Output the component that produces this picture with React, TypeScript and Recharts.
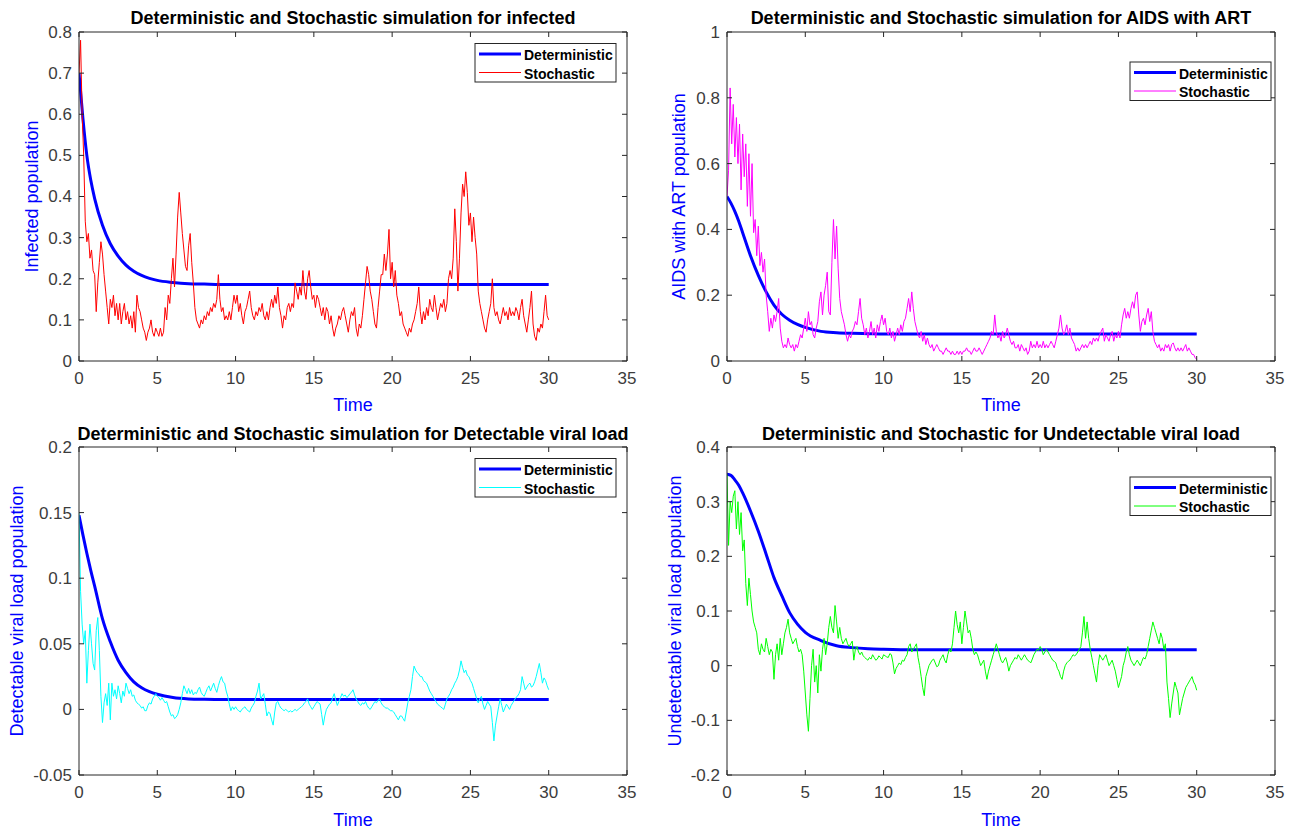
import React from 'react';
import { LineChart, Line, XAxis, YAxis } from 'recharts';

const FONT = '"Liberation Sans", Arial, Helvetica, sans-serif';
const AXIS_COLOR = '#262626';
const TICK_COLOR = '#3c3c3c';
const DET_COLOR = '#0000ff';
const LABEL_COLOR = '#0000ff';

// ---------- DATA ----------
// Stochastic series sampled every 0.1 time unit from t = 0 to t = 30 (301 values)
const stochInfected = [
  0.70, 0.78, 0.60, 0.50, 0.34, 0.29, 0.31, 0.25, 0.27, 0.22,
  0.21, 0.12, 0.19, 0.24, 0.29, 0.26, 0.21, 0.17, 0.13, 0.09,
  0.15, 0.13, 0.16, 0.11, 0.14, 0.10, 0.14, 0.09, 0.12, 0.14,
  0.10, 0.12, 0.09, 0.11, 0.08, 0.12, 0.07, 0.16, 0.13, 0.12,
  0.10, 0.08, 0.07, 0.05, 0.07, 0.08, 0.10, 0.07, 0.06, 0.08,
  0.07, 0.06, 0.08, 0.06, 0.07, 0.13, 0.10, 0.16, 0.14, 0.20,
  0.25, 0.18, 0.26, 0.35, 0.41, 0.36, 0.31, 0.27, 0.23, 0.22,
  0.28, 0.31, 0.24, 0.19, 0.13, 0.10, 0.09, 0.08, 0.10, 0.09,
  0.11, 0.10, 0.12, 0.11, 0.13, 0.12, 0.14, 0.13, 0.15, 0.21,
  0.15, 0.12, 0.13, 0.10, 0.11, 0.10, 0.12, 0.10, 0.13, 0.16,
  0.14, 0.16, 0.12, 0.14, 0.11, 0.09, 0.12, 0.13, 0.15, 0.17,
  0.13, 0.11, 0.10, 0.12, 0.11, 0.13, 0.12, 0.14, 0.11, 0.10,
  0.12, 0.10, 0.13, 0.15, 0.13, 0.16, 0.14, 0.18, 0.13, 0.11,
  0.08, 0.11, 0.10, 0.13, 0.14, 0.12, 0.14, 0.13, 0.19, 0.17,
  0.15, 0.18, 0.16, 0.22, 0.17, 0.15, 0.20, 0.22, 0.18, 0.15,
  0.16, 0.13, 0.16, 0.15, 0.13, 0.11, 0.13, 0.10, 0.13, 0.12,
  0.09, 0.11, 0.08, 0.06, 0.08, 0.09, 0.11, 0.10, 0.12, 0.13,
  0.11, 0.09, 0.07, 0.10, 0.12, 0.11, 0.13, 0.08, 0.06, 0.09,
  0.08, 0.11, 0.15, 0.19, 0.23, 0.21, 0.17, 0.15, 0.12, 0.09,
  0.08, 0.13, 0.17, 0.21, 0.21, 0.26, 0.22, 0.26, 0.32, 0.20,
  0.24, 0.18, 0.22, 0.16, 0.14, 0.11, 0.12, 0.09, 0.08, 0.07,
  0.06, 0.08, 0.07, 0.09, 0.10, 0.12, 0.14, 0.18, 0.12, 0.09,
  0.12, 0.10, 0.13, 0.11, 0.15, 0.13, 0.12, 0.16, 0.13, 0.10,
  0.12, 0.14, 0.13, 0.15, 0.12, 0.14, 0.20, 0.22, 0.20, 0.25,
  0.37, 0.29, 0.17, 0.25, 0.36, 0.43, 0.40, 0.46, 0.41, 0.33,
  0.36, 0.29, 0.35, 0.30, 0.26, 0.17, 0.14, 0.12, 0.10, 0.08,
  0.07, 0.10, 0.12, 0.14, 0.20, 0.13, 0.11, 0.12, 0.10, 0.09,
  0.11, 0.13, 0.11, 0.12, 0.10, 0.13, 0.11, 0.12, 0.11, 0.13,
  0.12, 0.10, 0.13, 0.15, 0.11, 0.09, 0.07, 0.10, 0.13, 0.17,
  0.09, 0.06, 0.05, 0.08, 0.07, 0.09, 0.08, 0.12, 0.16, 0.11,
  0.10,
];

const stochAids = [
  0.50, 0.58, 0.83, 0.66, 0.78, 0.62, 0.74, 0.60, 0.72, 0.52,
  0.69, 0.56, 0.66, 0.47, 0.63, 0.44, 0.60, 0.39, 0.43, 0.32,
  0.41, 0.29, 0.33, 0.27, 0.31, 0.20, 0.15, 0.09, 0.13, 0.10,
  0.14, 0.12, 0.15, 0.19, 0.10, 0.06, 0.04, 0.05, 0.04, 0.07,
  0.05, 0.04, 0.05, 0.03, 0.05, 0.04, 0.06, 0.08, 0.07, 0.10,
  0.13, 0.09, 0.15, 0.11, 0.12, 0.08, 0.07, 0.10, 0.12, 0.18,
  0.21, 0.14, 0.20, 0.23, 0.27, 0.15, 0.14, 0.30, 0.43, 0.31,
  0.41, 0.28, 0.19, 0.15, 0.13, 0.11, 0.08, 0.06, 0.08, 0.07,
  0.09, 0.10, 0.12, 0.11, 0.15, 0.19, 0.13, 0.11, 0.08, 0.10,
  0.07, 0.09, 0.12, 0.08, 0.10, 0.07, 0.11, 0.09, 0.12, 0.14,
  0.11, 0.13, 0.09, 0.08, 0.10, 0.07, 0.09, 0.06, 0.08, 0.10,
  0.08, 0.11, 0.09, 0.12, 0.13, 0.16, 0.19, 0.15, 0.21, 0.16,
  0.12, 0.10, 0.08, 0.07, 0.09, 0.06, 0.08, 0.05, 0.07, 0.05,
  0.04, 0.05, 0.03, 0.04, 0.05, 0.04, 0.03, 0.03, 0.02, 0.03,
  0.04, 0.03, 0.03, 0.02, 0.03, 0.02, 0.02, 0.03, 0.02, 0.03,
  0.02, 0.03, 0.03, 0.04, 0.03, 0.03, 0.02, 0.03, 0.04, 0.03,
  0.03, 0.04, 0.03, 0.02, 0.03, 0.04, 0.05, 0.06, 0.07, 0.09,
  0.08, 0.14, 0.09, 0.07, 0.08, 0.06, 0.09, 0.07, 0.08, 0.10,
  0.08, 0.06, 0.05, 0.06, 0.04, 0.04, 0.05, 0.03, 0.05, 0.04,
  0.03, 0.04, 0.02, 0.03, 0.06, 0.04, 0.05, 0.04, 0.06, 0.04,
  0.05, 0.04, 0.06, 0.04, 0.05, 0.04, 0.05, 0.06, 0.05, 0.04,
  0.06, 0.08, 0.10, 0.14, 0.10, 0.08, 0.09, 0.11, 0.08, 0.10,
  0.07, 0.06, 0.05, 0.03, 0.04, 0.03, 0.04, 0.05, 0.04, 0.05,
  0.04, 0.05, 0.06, 0.05, 0.07, 0.06, 0.07, 0.06, 0.08, 0.09,
  0.10, 0.06, 0.08, 0.07, 0.06, 0.08, 0.09, 0.06, 0.08, 0.07,
  0.09, 0.07, 0.11, 0.14, 0.16, 0.13, 0.15, 0.13, 0.16, 0.18,
  0.16, 0.20, 0.21, 0.14, 0.09, 0.12, 0.13, 0.11, 0.14, 0.16,
  0.12, 0.15, 0.09, 0.06, 0.05, 0.04, 0.05, 0.03, 0.04, 0.03,
  0.05, 0.04, 0.05, 0.03, 0.05, 0.055, 0.04, 0.03, 0.04, 0.03,
  0.04, 0.03, 0.04, 0.05, 0.03, 0.04, 0.03, 0.02, 0.02, 0.01,
  0.005,
];

const stochDetectable = [
  0.15, 0.09, 0.065, 0.05, 0.06, 0.02, 0.045, 0.065, 0.05, 0.035,
  0.03, 0.06, 0.07, 0.045, 0.01, -0.01, 0.005, 0.012, 0.003, 0.02,
  -0.008, 0.02, 0.01, 0.015, 0.008, 0.018, 0.012, 0.005, 0.014, 0.01,
  0.02, 0.016, 0.012, 0.015, 0.01, 0.011, 0.007, 0.005, 0.004, 0.003,
  0.001, 0.002, -0.001, -0.001, 0.003, 0.005, 0.004, 0.008, 0.01, 0.012,
  0.01, 0.009, 0.007, 0.009, 0.007, 0.005, 0.006, 0.002, -0.002, -0.005,
  -0.004, -0.007, -0.006, -0.004, 0.0, 0.005, 0.012, 0.018, 0.015, 0.012,
  0.016, 0.012, 0.015, 0.011, 0.013, 0.012, 0.015, 0.017, 0.013, 0.011,
  0.01, 0.013, 0.016, 0.018, 0.014, 0.017, 0.02, 0.016, 0.013, 0.018,
  0.022, 0.025, 0.021, 0.02, 0.014, 0.01, 0.004, -0.001, 0.002, 0.0,
  0.002, 0.0, -0.001, -0.002, 0.0, 0.001, 0.002, 0.0, -0.001, -0.002,
  0.001, 0.003, 0.005, 0.01, 0.014, 0.02, 0.008, 0.01, 0.012, 0.004,
  -0.005, -0.002, -0.003, -0.008, -0.012, -0.002, 0.005, 0.006, 0.003, 0.001,
  0.0, -0.001, 0.0, -0.001, -0.002, -0.001, -0.002, -0.001, 0.0, -0.001,
  0.0, 0.001, 0.002, 0.003, 0.005, 0.006, 0.008, 0.004, 0.002, 0.0,
  0.002, 0.004, 0.006, 0.005, 0.004, -0.004, -0.012, -0.005, 0.0, 0.002,
  0.004, 0.005, 0.009, 0.012, 0.007, 0.003, 0.006, 0.009, 0.012, 0.01,
  0.011, 0.009, 0.01, 0.012, 0.013, 0.015, 0.011, 0.008, 0.006, 0.004,
  0.003, 0.005, 0.004, 0.006, 0.003, 0.001, 0.0, 0.002, 0.004, 0.006,
  0.005, 0.007, 0.008, 0.005, 0.003, 0.002, 0.001, 0.001, 0.0, -0.001,
  -0.001, -0.002, -0.004, -0.006, -0.008, -0.005, -0.005, -0.007, -0.009, -0.002,
  0.005, 0.01, 0.015, 0.025, 0.033, 0.03, 0.028, 0.027, 0.025, 0.025,
  0.022, 0.021, 0.02, 0.017, 0.014, 0.012, 0.01, 0.008, 0.006, 0.004,
  0.003, 0.002, 0.001, 0.0, 0.004, 0.008, 0.01, 0.012, 0.015, 0.017,
  0.02, 0.022, 0.025, 0.03, 0.037, 0.032, 0.028, 0.03, 0.026, 0.025,
  0.022, 0.02, 0.016, 0.012, 0.008, 0.005, 0.008, 0.01, 0.004, 0.0,
  0.003, 0.006, 0.004, 0.002, -0.01, -0.024, -0.012, -0.005, 0.002, 0.008,
  0.003, -0.002, 0.001, 0.004, 0.002, 0.0, 0.003, 0.005, 0.007, 0.009,
  0.01, 0.012, 0.015, 0.025, 0.02, 0.015, 0.017, 0.019, 0.02, 0.017,
  0.018, 0.021, 0.025, 0.03, 0.035, 0.028, 0.02, 0.024, 0.022, 0.018,
  0.015,
];

const stochUndetectable = [
  0.35, 0.22, 0.30, 0.28, 0.31, 0.32, 0.25, 0.30, 0.24, 0.28,
  0.21, 0.23, 0.15, 0.11, 0.16, 0.13, 0.10, 0.08, 0.07, 0.06,
  0.03, 0.02, 0.04, 0.03, 0.025, 0.05, 0.035, 0.02, 0.03, 0.025,
  -0.025, 0.02, 0.04, 0.01, 0.05, 0.02, 0.04, 0.06, 0.07, 0.085,
  0.06, 0.05, 0.04, 0.045, 0.05, 0.035, 0.025, 0.03, 0.02, -0.01,
  -0.05, -0.09, -0.12, -0.06, 0.0, 0.03, -0.03, 0.0, -0.05, 0.02,
  -0.01, 0.03, 0.05, 0.02, 0.04, 0.07, 0.09, 0.07, 0.06, 0.11,
  0.08, 0.05, 0.07, 0.05, 0.04, 0.045, 0.05, 0.04, 0.035, 0.04,
  0.045, 0.01, 0.03, 0.035, 0.025, 0.02, 0.025, 0.018, 0.015, 0.012,
  0.01, 0.015, 0.012, 0.02, 0.015, 0.01, 0.012, 0.018, 0.015, 0.012,
  0.02, 0.018, 0.016, 0.015, 0.022, 0.02, 0.005, -0.015, -0.005, 0.0,
  0.005, 0.002, 0.01, 0.008, 0.015, 0.02, 0.035, 0.04, 0.025, 0.03,
  0.035, 0.04, 0.015, 0.0, -0.02, -0.04, -0.055, -0.02, -0.01, 0.0,
  0.005, 0.01, 0.012, 0.005, -0.002, 0.0, 0.01, 0.015, 0.02, 0.01,
  0.005, 0.02, 0.03, 0.025, 0.04, 0.07, 0.1, 0.075, 0.06, 0.08,
  0.04, 0.07, 0.1, 0.08, 0.06, 0.065, 0.05, 0.03, 0.02, 0.025,
  0.02, 0.01, 0.0, 0.005, 0.01, -0.01, -0.025, -0.01, 0.0, 0.01,
  0.02, 0.03, 0.04, 0.03, 0.02, 0.01, 0.005, 0.01, 0.015, 0.005,
  -0.01, 0.0, 0.005, 0.01, 0.015, 0.012, 0.02, 0.015, 0.01, 0.015,
  0.02, 0.015, 0.01, 0.008, 0.005, 0.012, 0.02, 0.025, 0.03, 0.028,
  0.035, 0.03, 0.02, 0.025, 0.03, 0.025, 0.02, 0.015, 0.01, 0.008,
  0.005, -0.005, -0.01, -0.02, -0.025, -0.01, 0.0, 0.005, 0.008, 0.01,
  0.015, 0.02, 0.018, 0.02, 0.025, 0.03, 0.035, 0.06, 0.09, 0.05,
  0.08, 0.05, 0.03, 0.015, 0.0, -0.015, -0.03, 0.0, 0.02, 0.015,
  0.01, 0.015, 0.02, 0.01, 0.0, 0.005, 0.01, 0.0, -0.01, -0.025,
  -0.04, -0.03, -0.02, 0.0, 0.01, 0.025, 0.035, 0.02, 0.01, 0.005,
  0.0, 0.005, 0.01, 0.005, 0.0, 0.008, 0.015, 0.012, 0.02, 0.035,
  0.05, 0.065, 0.08, 0.07, 0.06, 0.05, 0.04, 0.06, 0.05, 0.03,
  0.04, -0.03, -0.06, -0.095, -0.07, -0.05, -0.03, -0.04, -0.05, -0.09,
  -0.075, -0.06, -0.05, -0.04, -0.035, -0.03, -0.025, -0.02, -0.03, -0.035,
  -0.045,
];

// Deterministic series, read at these times
const detTime = [0, 0.25, 0.5, 0.75, 1, 1.5, 2, 2.5, 3, 3.5, 4, 4.5, 5, 6, 7, 8, 9, 10, 12, 15, 20, 25, 30];
const detInfected = [0.70, 0.59, 0.50, 0.44, 0.395, 0.33, 0.285, 0.255, 0.233, 0.218, 0.208, 0.201, 0.196, 0.191, 0.188, 0.187, 0.186, 0.186, 0.186, 0.186, 0.186, 0.186, 0.186];
const detAids = [0.50, 0.48, 0.455, 0.425, 0.39, 0.32, 0.26, 0.21, 0.17, 0.142, 0.124, 0.111, 0.102, 0.09, 0.086, 0.084, 0.083, 0.082, 0.082, 0.082, 0.082, 0.082, 0.082];
const detDetectable = [0.148, 0.133, 0.119, 0.106, 0.094, 0.069, 0.0515, 0.0375, 0.028, 0.021, 0.0165, 0.0135, 0.0115, 0.009, 0.008, 0.0077, 0.0076, 0.0075, 0.0075, 0.0075, 0.0075, 0.0075, 0.0075];
const detUndetectable = [0.35, 0.348, 0.34, 0.33, 0.316, 0.283, 0.246, 0.204, 0.161, 0.128, 0.097, 0.076, 0.061, 0.046, 0.0365, 0.033, 0.031, 0.030, 0.029, 0.029, 0.029, 0.029, 0.029];

// Ticks
const xTicks = [0, 5, 10, 15, 20, 25, 30, 35];
const xTickLabels = ['0', '5', '10', '15', '20', '25', '30', '35'];
const yTicksInfected = [0, 0.1, 0.2, 0.3, 0.4, 0.5, 0.6, 0.7, 0.8];
const yTickLabelsInfected = ['0', '0.1', '0.2', '0.3', '0.4', '0.5', '0.6', '0.7', '0.8'];
const yTicksAids = [0, 0.2, 0.4, 0.6, 0.8, 1];
const yTickLabelsAids = ['0', '0.2', '0.4', '0.6', '0.8', '1'];
const yTicksDetectable = [-0.05, 0, 0.05, 0.1, 0.15, 0.2];
const yTickLabelsDetectable = ['-0.05', '0', '0.05', '0.1', '0.15', '0.2'];
const yTicksUndetectable = [-0.2, -0.1, 0, 0.1, 0.2, 0.3, 0.4];
const yTickLabelsUndetectable = ['-0.2', '-0.1', '0', '0.1', '0.2', '0.3', '0.4'];

const titles = [
  'Deterministic and Stochastic simulation for infected',
  'Deterministic and Stochastic simulation for AIDS with ART',
  'Deterministic and Stochastic simulation for Detectable viral load',
  'Deterministic and Stochastic for Undetectable viral load',
];
const yLabels = [
  'Infected population',
  'AIDS with ART population',
  'Detectable viral load population',
  'Undetectable viral load population',
];
const xLabel = 'Time';
const legendNames = ['Deterministic', 'Stochastic'];
const stochColors = ['#ff0000', '#ff00ff', '#00ffff', '#00ff00'];

// ---------- HELPERS ----------
const stochTime = stochInfected.map((_, i) => i / 10);

function toPoints(times: number[], values: number[]) {
  return times.map((t, i) => ({ t, v: values[i] }));
}

function BottomTick(props: any) {
  const { x, y, index, labels } = props;
  return (
    <g>
      <line x1={x} y1={y} x2={x} y2={y - 5} stroke={AXIS_COLOR} strokeWidth={1} />
      <text x={x} y={y + 11} dy="0.71em" textAnchor="middle" fill={TICK_COLOR} fontSize={17} fontFamily={FONT}>
        {labels[index]}
      </text>
    </g>
  );
}

function TopTick(props: any) {
  const { x, y } = props;
  return <line x1={x} y1={y} x2={x} y2={y + 5} stroke={AXIS_COLOR} strokeWidth={1} />;
}

function LeftTick(props: any) {
  const { x, y, index, labels } = props;
  return (
    <g>
      <line x1={x} y1={y} x2={x + 5} y2={y} stroke={AXIS_COLOR} strokeWidth={1} />
      <text x={x - 7} y={y} dy="0.35em" textAnchor="end" fill={TICK_COLOR} fontSize={17} fontFamily={FONT}>
        {labels[index]}
      </text>
    </g>
  );
}

function RightTick(props: any) {
  const { x, y } = props;
  return <line x1={x} y1={y} x2={x - 5} y2={y} stroke={AXIS_COLOR} strokeWidth={1} />;
}

type PanelCfg = {
  left: number;
  top: number;
  width: number;
  height: number;
  title: string;
  yLabel: string;
  yDomain: [number, number];
  yTicks: number[];
  yTickLabels: string[];
  stoch: number[];
  det: number[];
  color: string;
  titleBaseline: number;
  xLabelBaseline: number;
  yLabelX: number;
  legendX: number;
  legendY: number;
};

const panels: PanelCfg[] = [
  {
    left: 79, top: 32, width: 548, height: 329,
    title: titles[0], yLabel: yLabels[0], yDomain: [0, 0.8],
    yTicks: yTicksInfected, yTickLabels: yTickLabelsInfected,
    stoch: stochInfected, det: detInfected, color: stochColors[0],
    titleBaseline: 24, xLabelBaseline: 411, yLabelX: 38, legendX: 475, legendY: 43.5,
  },
  {
    left: 727, top: 32, width: 548, height: 329,
    title: titles[1], yLabel: yLabels[1], yDomain: [0, 1],
    yTicks: yTicksAids, yTickLabels: yTickLabelsAids,
    stoch: stochAids, det: detAids, color: stochColors[1],
    titleBaseline: 24, xLabelBaseline: 411, yLabelX: 685, legendX: 1130, legendY: 62,
  },
  {
    left: 79, top: 447, width: 548, height: 328,
    title: titles[2], yLabel: yLabels[2], yDomain: [-0.05, 0.2],
    yTicks: yTicksDetectable, yTickLabels: yTickLabelsDetectable,
    stoch: stochDetectable, det: detDetectable, color: stochColors[2],
    titleBaseline: 440, xLabelBaseline: 826, yLabelX: 23, legendX: 475, legendY: 458.5,
  },
  {
    left: 727, top: 447, width: 548, height: 328,
    title: titles[3], yLabel: yLabels[3], yDomain: [-0.2, 0.4],
    yTicks: yTicksUndetectable, yTickLabels: yTickLabelsUndetectable,
    stoch: stochUndetectable, det: detUndetectable, color: stochColors[3],
    titleBaseline: 440, xLabelBaseline: 826, yLabelX: 681, legendX: 1130, legendY: 477,
  },
];

function Panel({ cfg }: { cfg: PanelCfg }) {
  const chartW = cfg.width + 100;
  const chartH = cfg.height + 40;
  const stochData = toPoints(stochTime, cfg.stoch);
  const detData = toPoints(detTime, cfg.det);
  const axisLine = { stroke: AXIS_COLOR, strokeWidth: 1 };
  return (
    <div style={{ position: 'absolute', left: cfg.left - 70, top: cfg.top - 10, width: chartW, height: chartH }}>
      <LineChart width={chartW} height={chartH} margin={{ top: 9, right: 29, bottom: 0, left: 0 }}>
        <XAxis
          xAxisId="b" dataKey="t" type="number" domain={[0, 35]} ticks={xTicks} interval={0}
          orientation="bottom" height={30} tickSize={0} tickMargin={0} tickLine={false}
          axisLine={axisLine} tick={<BottomTick labels={xTickLabels} />} allowDataOverflow
        />
        <XAxis
          xAxisId="t" dataKey="t" type="number" domain={[0, 35]} ticks={xTicks} interval={0}
          orientation="top" height={1} tickSize={0} tickMargin={0} tickLine={false}
          axisLine={axisLine} tick={<TopTick />} allowDataOverflow
        />
        <YAxis
          yAxisId="l" type="number" domain={cfg.yDomain} ticks={cfg.yTicks} interval={0}
          orientation="left" width={70} tickSize={0} tickMargin={0} tickLine={false}
          axisLine={axisLine} tick={<LeftTick labels={cfg.yTickLabels} />} allowDataOverflow
        />
        <YAxis
          yAxisId="r" type="number" domain={cfg.yDomain} ticks={cfg.yTicks} interval={0}
          orientation="right" width={1} tickSize={0} tickMargin={0} tickLine={false}
          axisLine={axisLine} tick={<RightTick />} allowDataOverflow
        />
        <Line
          xAxisId="b" yAxisId="l" data={detData} dataKey="v" type="monotone"
          stroke={DET_COLOR} strokeWidth={3} dot={false} activeDot={false} isAnimationActive={false}
        />
        <Line
          xAxisId="b" yAxisId="l" data={stochData} dataKey="v" type="linear"
          stroke={cfg.color} strokeWidth={1} dot={false} activeDot={false} isAnimationActive={false}
        />
      </LineChart>
    </div>
  );
}

function Overlay() {
  return (
    <svg
      width={1295}
      height={829}
      style={{ position: 'absolute', left: 0, top: 0, pointerEvents: 'none' }}
      fontFamily={FONT}
    >
      {panels.map((p, i) => {
        const cx = p.left + p.width / 2;
        const cy = p.top + p.height / 2;
        const lx = p.legendX;
        const ly = p.legendY;
        return (
          <g key={i}>
            <text x={cx} y={p.titleBaseline} textAnchor="middle" fontSize={18} fontWeight="bold" fill="#000">
              {p.title}
            </text>
            <text x={cx} y={p.xLabelBaseline} textAnchor="middle" fontSize={18} fill={LABEL_COLOR}>
              {xLabel}
            </text>
            <text
              transform={`translate(${p.yLabelX},${cy}) rotate(-90)`}
              textAnchor="middle" fontSize={18} fill={LABEL_COLOR}
            >
              {p.yLabel}
            </text>
            <rect x={lx} y={ly} width={141} height={38.5} fill="#fff" stroke={AXIS_COLOR} strokeWidth={1} />
            <line x1={lx + 4} y1={ly + 10.5} x2={lx + 46} y2={ly + 10.5} stroke={DET_COLOR} strokeWidth={3} />
            <text x={lx + 49} y={ly + 16.5} fontSize={14} fontWeight="bold" fill="#000">{legendNames[0]}</text>
            <line x1={lx + 4} y1={ly + 29} x2={lx + 46} y2={ly + 29} stroke={p.color} strokeWidth={1} />
            <text x={lx + 49} y={ly + 35} fontSize={14} fontWeight="bold" fill="#000">{legendNames[1]}</text>
          </g>
        );
      })}
    </svg>
  );
}

export default function App() {
  return (
    <div style={{ position: 'absolute', left: 0, top: 0, width: 1295, height: 829, background: '#fff', fontFamily: FONT }}>
      {panels.map((p, i) => (
        <Panel key={i} cfg={p} />
      ))}
      <Overlay />
    </div>
  );
}
